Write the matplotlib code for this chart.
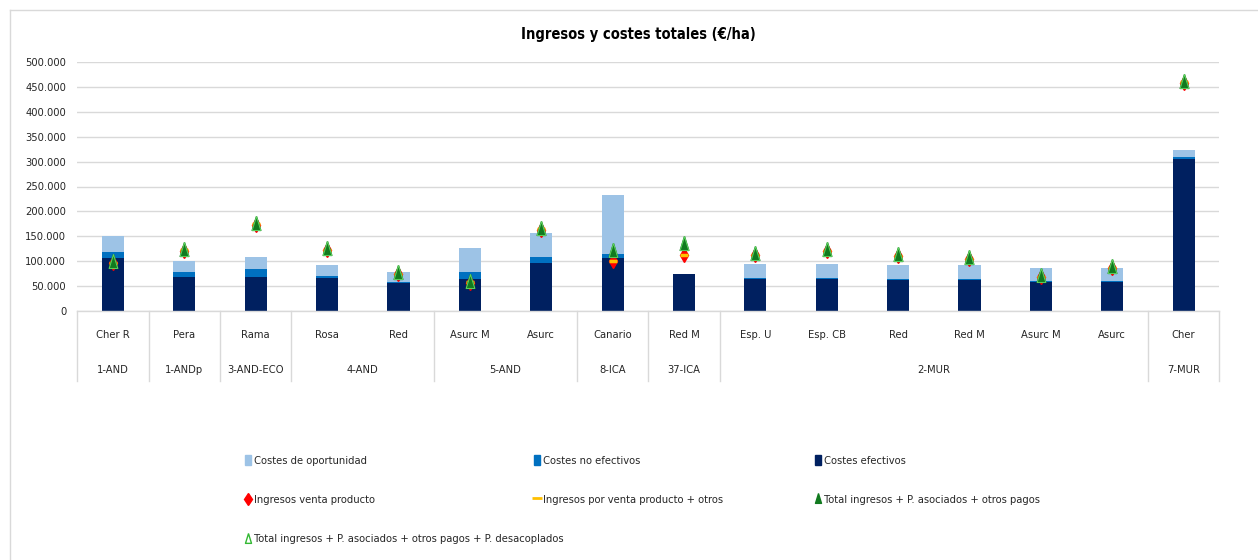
import numpy as np
import matplotlib.pyplot as plt
from matplotlib.patches import Patch
from matplotlib.lines import Line2D

plt.rcParams['font.family'] = ['DejaVu Sans']
plt.rcParams['font.stretch'] = 'condensed'

# Data (€/ha)
categorias = ['Cher R', 'Pera', 'Rama', 'Rosa', 'Red', 'Asurc M', 'Asurc', 'Canario',
              'Red M', 'Esp. U', 'Esp. CB', 'Red', 'Red M', 'Asurc M', 'Asurc', 'Cher']
grupos = ['1-AND', '1-ANDp', '3-AND-ECO', '4-AND', '5-AND', '8-ICA', '37-ICA', '2-MUR', '7-MUR']
grupo_n = [1, 1, 1, 2, 2, 1, 1, 6, 1]

costes_efectivos = [106800, 69100, 69100, 67200, 55800, 65200, 95400, 106800,
                    74000, 63800, 63800, 61800, 62500, 59100, 58400, 304400]
costes_no_efectivos = [12200, 9500, 16200, 3400, 2000, 13400, 13500, 8100,
                       1300, 2700, 2700, 2000, 2000, 2000, 2100, 4700]
costes_oportunidad = [32200, 22200, 23000, 22100, 21500, 47800, 48300, 118300,
                      0, 28200, 27500, 28200, 28200, 25600, 26200, 13500]

ingresos_venta = [96000, 121000, 173000, 122000, 74000, 57000, 163000, 100800,
                  112300, 112000, 120000, 110000, 104000, 68000, 86000, 458000]
ingresos_otros = [97000, 122000, 174000, 123000, 75000, 58000, 164000, 100800,
                  112300, 113000, 121000, 111000, 105000, 69000, 87000, 459000]
total_pagos = [100000, 125000, 176800, 126400, 78000, 60500, 166700, 123000,
               136500, 116000, 124000, 114000, 107500, 71900, 89900, 462300]
total_desacoplados = [100000, 125000, 176800, 126400, 78000, 60500, 166700, 123000,
                      136500, 116000, 124000, 114000, 107500, 71900, 89900, 462300]

c_opp = '#9DC3E6'
c_noef = '#0070C0'
c_ef = '#002060'
c_grid = '#D9D9D9'
c_text = '#262626'
tri = [(0, 1), (-0.62, -1), (0.62, -1), (0, 1)]

fig = plt.figure(figsize=(12.58, 5.60), dpi=100)
ax = fig.add_axes([77.3 / 1258, 249 / 560, 1142 / 1258, 249 / 560])

x = np.arange(len(categorias))
ef = np.array(costes_efectivos)
noef = np.array(costes_no_efectivos)
w = 0.31
ax.bar(x, ef, w, color=c_ef, zorder=2)
ax.bar(x, noef, w, bottom=ef, color=c_noef, zorder=2)
ax.bar(x, costes_oportunidad, w, bottom=ef + noef, color=c_opp, zorder=2)

ax.plot(x, ingresos_venta, 'd', color='#FF0000', ms=7, ls='none', zorder=3)
ax.plot(x, ingresos_otros, '_', color='#FFC000', ms=6, mew=2.5, ls='none', zorder=4)
ax.plot(x, total_pagos, marker=tri, color='#117A1F', ms=10, ls='none', zorder=5)
ax.plot(x, total_desacoplados, marker=tri, mfc='none', mec='#5FD35F', mew=0.7, ms=10,
        ls='none', zorder=6)

ax.set_xlim(-0.5, len(categorias) - 0.5)
ax.set_ylim(0, 500000)
ax.set_yticks(np.arange(0, 500001, 50000))
ax.set_yticklabels([f'{v:,.0f}'.replace(',', '.') for v in np.arange(0, 500001, 50000)],
                   fontsize=8, color=c_text)
ax.tick_params(axis='y', length=0, pad=8)
ax.grid(axis='y', color=c_grid, lw=1, zorder=0)
for s in ax.spines.values():
    s.set_visible(False)
ax.set_xticks([])

# two-level category axis
tr = ax.get_xaxis_transform()
ax.plot([-0.5, len(categorias) - 0.5], [0, 0], color=c_grid, lw=1, transform=tr, clip_on=False)
for i, c in enumerate(categorias):
    ax.text(i, -0.096, c, transform=tr, ha='center', va='center', fontsize=8, color=c_text)
start = 0
bounds = [-0.5]
for g, n in zip(grupos, grupo_n):
    ax.text(start + (n - 1) / 2, -0.237, g, transform=tr, ha='center', va='center',
            fontsize=8, color=c_text)
    start += n
    bounds.append(start - 0.5)
for b in bounds:
    ax.plot([b, b], [0, -0.281], color=c_grid, lw=1, transform=tr, clip_on=False)

fig.text(638 / 1258, 1 - 34 / 560, 'Ingresos y costes totales (€/ha)', ha='center', va='center',
         fontsize=10.5, fontweight='bold', color='black')

# chart border (left and top)
fig.add_artist(Line2D([9.5 / 1258, 9.5 / 1258], [0, 1 - 9.5 / 560], color=c_grid, lw=1))
fig.add_artist(Line2D([9.5 / 1258, 1], [1 - 9.5 / 560, 1 - 9.5 / 560], color=c_grid, lw=1))

# legend, three columns
h_opp = Patch(color=c_opp)
h_noef = Patch(color=c_noef)
h_ef = Patch(color=c_ef)
h_dia = Line2D([], [], marker='d', color='#FF0000', ms=6, ls='none')
h_dash = Line2D([], [], marker='_', color='#FFC000', ms=7, mew=2, ls='none')
h_tri = Line2D([], [], marker=tri, color='#117A1F', ms=7, ls='none')
h_open = Line2D([], [], marker=tri, mfc='none', mec='#33B833', mew=1, ms=7, ls='none')

cols = [
    (245, [h_opp, h_dia, h_open], ['Costes de oportunidad', 'Ingresos venta producto',
                                   'Total ingresos + P. asociados + otros pagos + P. desacoplados']),
    (534, [h_noef, h_dash], ['Costes no efectivos', 'Ingresos por venta producto + otros']),
    (815, [h_ef, h_tri], ['Costes efectivos', 'Total ingresos + P. asociados + otros pagos']),
]
for xpx, hs, ls_ in cols:
    fig.legend(hs, ls_, loc='upper left', bbox_to_anchor=(xpx / 1258, 1 - 455 / 560),
               frameon=False, fontsize=8, ncol=1, borderpad=0, borderaxespad=0,
               handlelength=0.5, handleheight=1.0, handletextpad=0.3, labelspacing=2.55,
               labelcolor=c_text)

fig.savefig('out.png', dpi=100)
